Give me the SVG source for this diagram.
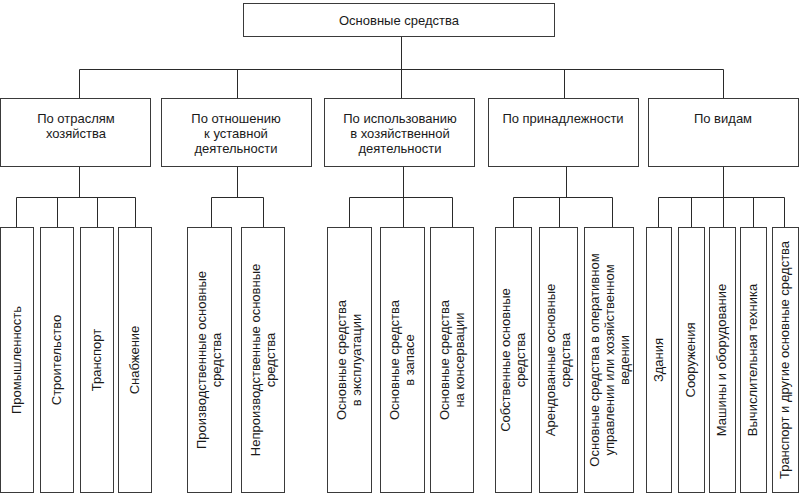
<svg xmlns="http://www.w3.org/2000/svg" width="799" height="494" viewBox="0 0 799 494">
<style>
.b{fill:#fff;stroke:#3a3a3a;stroke-width:1}
.c{fill:none;stroke:#2a2a2a;stroke-width:1}
text{font-family:"Liberation Sans",Arial,sans-serif;font-size:13px;fill:#1a1a1a;text-anchor:middle}
</style>
<rect width="799" height="494" fill="#fff"/>
<g id="connectors" class="c">
<path d="M401.5 36.5V69.5M79.5 69.5H723.5M79.5 69.5V98.5M237.5 69.5V98.5M401.5 69.5V98.5M564.5 69.5V98.5M723.5 69.5V98.5"/>
<path d="M79.5 166.5V197.5M16.5 197.5H135.5M16.5 197.5V227.5M57.5 197.5V227.5M97.5 197.5V227.5M135.5 197.5V227.5"/>
<path d="M237.5 166.5V197.5M211.5 197.5H263.5M211.5 197.5V227.5M263.5 197.5V227.5"/>
<path d="M403.5 166.5V197.5M349.5 197.5H452.5M349.5 197.5V227.5M403.5 197.5V227.5M452.5 197.5V227.5"/>
<path d="M566.5 166.5V197.5M513.5 197.5H612.5M513.5 197.5V227.5M559.5 197.5V227.5M612.5 197.5V227.5"/>
<path d="M723.5 166.5V197.5M658.5 197.5H784.5M658.5 197.5V227.5M691.5 197.5V227.5M723.5 197.5V227.5M753.5 197.5V227.5M784.5 197.5V227.5"/>
</g>
<g id="root"><rect class="b" x="243.5" y="3.5" width="311" height="33"/><text x="399" y="25">Основные средства</text></g>
<g id="k1"><rect class="b" x="0.5" y="98.5" width="150" height="68"/><text x="76" y="123">По отраслям</text><text x="76" y="138">хозяйства</text></g>
<g id="k2"><rect class="b" x="161.5" y="98.5" width="150" height="68"/><text x="236" y="123">По отношению</text><text x="236" y="138">к уставной</text><text x="236" y="153">деятельности</text></g>
<g id="k3"><rect class="b" x="324.5" y="98.5" width="150" height="68"/><text x="400" y="123">По использованию</text><text x="400" y="138">в хозяйственной</text><text x="400" y="153">деятельности</text></g>
<g id="k4"><rect class="b" x="488.5" y="98.5" width="150" height="68"/><text x="563" y="123">По принадлежности</text></g>
<g id="k5"><rect class="b" x="648.5" y="98.5" width="150" height="68"/><text x="723" y="123">По видам</text></g>

<g id="l1"><rect class="b" x="0.5" y="227.5" width="33" height="265"/><text transform="translate(17 360) rotate(-90)" y="4">Промышленность</text></g>
<g id="l2"><rect class="b" x="40.5" y="227.5" width="33" height="265"/><text transform="translate(57 360) rotate(-90)" y="4">Строительство</text></g>
<g id="l3"><rect class="b" x="80.5" y="227.5" width="33" height="265"/><text transform="translate(97 360) rotate(-90)" y="4">Транспорт</text></g>
<g id="l4"><rect class="b" x="118.5" y="227.5" width="33" height="265"/><text transform="translate(135 360) rotate(-90)" y="4">Снабжение</text></g>

<g id="l5"><rect class="b" x="187.5" y="227.5" width="44" height="265"/><text transform="translate(209 360) rotate(-90)" y="-3">Производственные основные</text><text transform="translate(209 360) rotate(-90)" y="12">средства</text></g>
<g id="l6"><rect class="b" x="241.5" y="227.5" width="43" height="265"/><text transform="translate(263 360) rotate(-90)" y="-3">Непроизводственные основные</text><text transform="translate(263 360) rotate(-90)" y="12">средства</text></g>

<g id="l7"><rect class="b" x="327.5" y="227.5" width="44" height="265"/><text transform="translate(349 360) rotate(-90)" y="-3">Основные средства</text><text transform="translate(349 360) rotate(-90)" y="12">в эксплуатации</text></g>
<g id="l8"><rect class="b" x="380.5" y="227.5" width="44" height="265"/><text transform="translate(402 360) rotate(-90)" y="-3">Основные средства</text><text transform="translate(402 360) rotate(-90)" y="12">в запасе</text></g>
<g id="l9"><rect class="b" x="430.5" y="227.5" width="43" height="265"/><text transform="translate(452 360) rotate(-90)" y="-3">Основные средства</text><text transform="translate(452 360) rotate(-90)" y="12">на консервации</text></g>

<g id="l10"><rect class="b" x="495.5" y="227.5" width="36" height="265"/><text transform="translate(513 360) rotate(-90)" y="-3">Собственные основные</text><text transform="translate(513 360) rotate(-90)" y="12">средства</text></g>
<g id="l11"><rect class="b" x="539.5" y="227.5" width="38" height="265"/><text transform="translate(558 360) rotate(-90)" y="-3">Арендованные основные</text><text transform="translate(558 360) rotate(-90)" y="12">средства</text></g>
<g id="l12"><rect class="b" x="584.5" y="227.5" width="49" height="265"/><text transform="translate(609 360) rotate(-90)" y="-10">Основные средства в оперативном</text><text transform="translate(609 360) rotate(-90)" y="5">управлении или хозяйственном</text><text transform="translate(609 360) rotate(-90)" y="20">ведении</text></g>

<g id="l13"><rect class="b" x="646.5" y="227.5" width="25" height="265"/><text transform="translate(659 360) rotate(-90)" y="4">Здания</text></g>
<g id="l14"><rect class="b" x="678.5" y="227.5" width="26" height="265"/><text transform="translate(691 360) rotate(-90)" y="4">Сооружения</text></g>
<g id="l15"><rect class="b" x="709.5" y="227.5" width="26" height="265"/><text transform="translate(722 360) rotate(-90)" y="4">Машины и оборудование</text></g>
<g id="l16"><rect class="b" x="740.5" y="227.5" width="26" height="265"/><text transform="translate(753 360) rotate(-90)" y="4">Вычислительная техника</text></g>
<g id="l17"><rect class="b" x="772.5" y="227.5" width="26" height="265"/><text transform="translate(785 360) rotate(-90)" y="4">Транспорт и другие основные средства</text></g>
</svg>
